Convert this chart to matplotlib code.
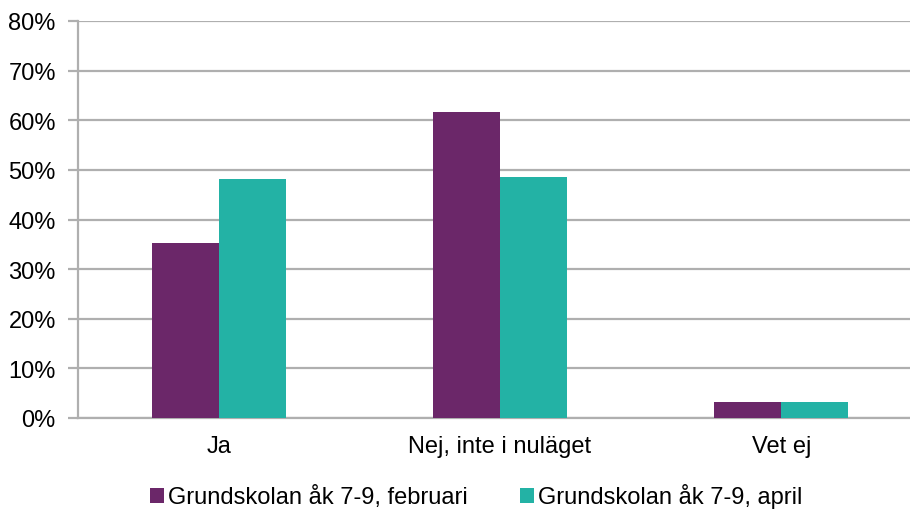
import matplotlib
matplotlib.use("Agg")
import matplotlib.pyplot as plt
import numpy as np
from matplotlib.ticker import PercentFormatter

plt.rcParams['font.family'] = ['Liberation Sans', 'DejaVu Sans']

categories = ["Ja", "Nej, inte i nuläget", "Vet ej"]
series_names = ["Grundskolan åk 7-9, februari", "Grundskolan åk 7-9, april"]
feb = [35.2, 61.6, 3.2]
apr = [48.1, 48.5, 3.3]
colors = ["#6B2769", "#23B2A5"]

fig = plt.figure(figsize=(9.1, 5.1), dpi=100)
ax = fig.add_axes([78/910, 1-419/510, (922-78)/910, (419-22)/510])

x = np.arange(len(categories))
w = 0.238
ax.bar(x - w/2, feb, w, color=colors[0], label=series_names[0], zorder=3)
ax.bar(x + w/2, apr, w, color=colors[1], label=series_names[1], zorder=3)

ax.set_xlim(-0.5, len(categories) - 0.5)
ax.set_ylim(0, 80)
ax.set_yticks(np.arange(0, 81, 10))
ax.yaxis.set_major_formatter(PercentFormatter(decimals=0))
ax.set_xticks(x)
ax.set_xticklabels(categories)

fs = 17
grid_c = "#AFAFAF"
ax.grid(axis='y', color=grid_c, linewidth=1.6, zorder=0)
for s in ['top', 'right']:
    ax.spines[s].set_visible(False)
ax.spines['left'].set_color(grid_c)
ax.spines['left'].set_linewidth(1.6)
ax.spines['bottom'].set_color(grid_c)
ax.spines['bottom'].set_linewidth(1.6)
ax.tick_params(axis='y', length=7, color=grid_c, width=1.6, labelsize=fs, pad=9)
ax.tick_params(axis='x', length=0, labelsize=fs, pad=12)

leg = fig.legend(loc='center', bbox_to_anchor=(476/910, 1-497/510), ncol=2, frameon=False,
                 fontsize=fs, handlelength=0.6, handleheight=0.6, handletextpad=0.17,
                 columnspacing=2.2, borderaxespad=0, borderpad=0)

fig.savefig("out.png", dpi=100)
